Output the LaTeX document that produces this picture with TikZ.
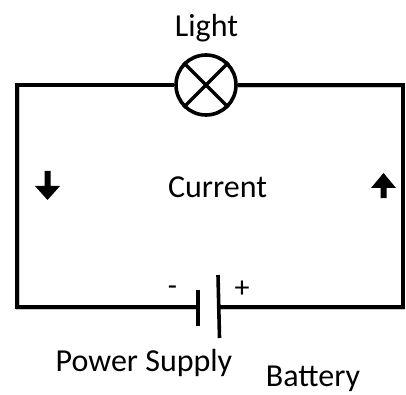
\documentclass[tikz,border=0pt]{standalone}
\usepackage{fontspec}
\setmainfont{Carlito}
\tikzset{
  wire/.style={line width=3.4pt,black,line join=miter},
  wireshade/.style={line width=3.6pt,black!22,line join=miter},
  plate/.style={line width=3.6pt,black},
  lamp/.style={circle,draw=black,line width=3.6pt,minimum size=60pt,inner sep=0pt,fill=white},
  lbl/.style={font=\fontsize{32}{34}\selectfont,inner sep=0pt,text=black},
  sign/.style={font=\fontsize{30}{32}\selectfont,inner sep=0pt,text=black},
  flow/.style={fill=black,draw=none},
}
\begin{document}
\begin{tikzpicture}[x=1pt,y=-1pt]
\useasboundingbox (0,0) rectangle (406,395);
\coordinate (tl) at (17,85);
\coordinate (tr) at (403,85);
\coordinate (bl) at (17,307);
\coordinate (br) at (403,307);
\coordinate (neg) at (198,307);
\coordinate (pos) at (219,307);
% soft shadow under the wires
\draw[wireshade] (18,86.5) -- (18,308.5) -- (198,308.5);
\draw[wireshade] (236,86.5) -- (403.5,86.5) -- (403.5,308.5) -- (219,308.5);
\node[lamp] (bulb) at (206,85) {};
\draw[wire] (bulb.west) -- (tl) -- (bl) -- (neg);
\draw[wire] (bulb.east) -- (tr) -- (br) -- (pos);
\draw[line width=3.4pt] (bulb.north west) -- (bulb.south east);
\draw[line width=3.4pt] (bulb.north east) -- (bulb.south west);
\draw[plate] (198,290) -- (198,326);
\draw[plate] (218,275) -- (219.5,338);
% current arrows
\fill[flow] (44.5,171) -- (50.5,171) -- (50.5,186) -- (60,186) -- (47.5,200) -- (35,186) -- (44.5,186) -- cycle;
\fill[flow] (380.5,198) -- (386.5,198) -- (386.5,188) -- (396,188) -- (383.5,173) -- (371,188) -- (380.5,188) -- cycle;
\node[lbl] (light) at (206.5,28) {Light};
\node[lbl] (current) at (217.5,187) {Current};
\node[lbl] (supply) at (144,363) {Power Supply};
\node[lbl] (battery) at (313,379) {Battery};
\node[sign] (minus) at (172.5,291) {-};
\node[sign] (plus) at (242,289) {+};
\end{tikzpicture}
\end{document}
